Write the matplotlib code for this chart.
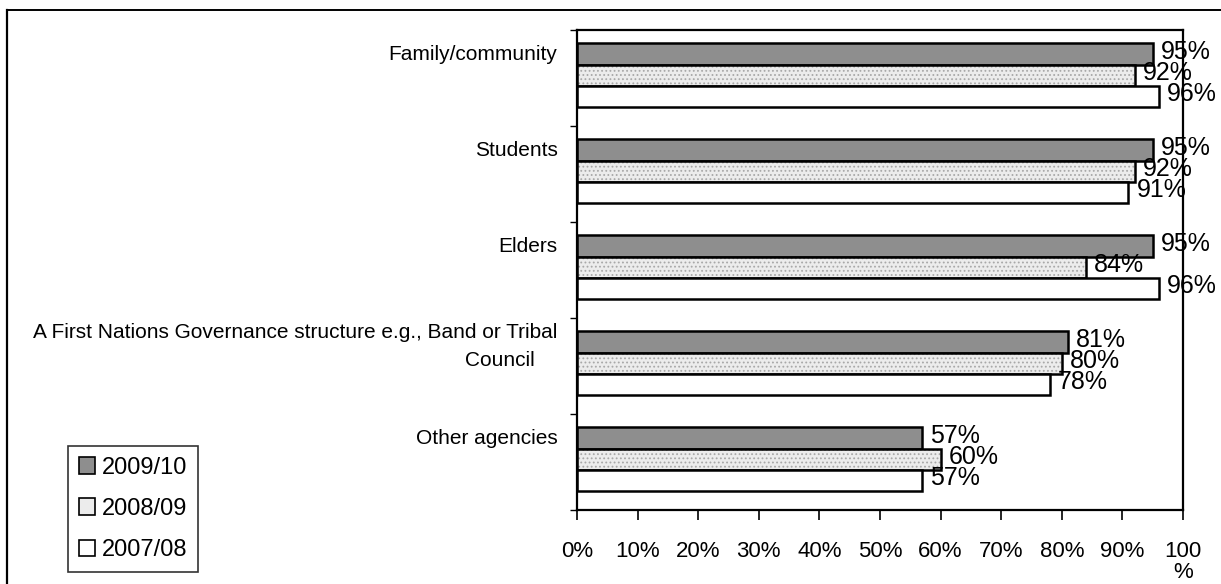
import matplotlib

matplotlib.use("Agg")
import matplotlib.pyplot as plt
import matplotlib.transforms as mtransforms
import numpy as np
from matplotlib.lines import Line2D
from matplotlib.patches import Patch

plt.rcParams["font.family"] = ["Liberation Sans", "DejaVu Sans"]
plt.rcParams["hatch.linewidth"] = 0.8

categories = [
    "Family/community",
    "Students",
    "Elders",
    "A First Nations Governance structure e.g., Band or Tribal\nCouncil    ",
    "Other agencies",
]
years = ["2009/10", "2008/09", "2007/08"]
values_2009_10 = [0.95, 0.95, 0.95, 0.81, 0.57]
values_2008_09 = [0.92, 0.92, 0.84, 0.80, 0.60]
values_2007_08 = [0.96, 0.91, 0.96, 0.78, 0.57]
x_tick_labels = ["0%", "10%", "20%", "30%", "40%", "50%", "60%", "70%", "80%", "90%", "100\n%"]

series = [values_2009_10, values_2008_09, values_2007_08]
fills = [
    dict(facecolor="#8e8e8e", hatch=None, hatch_color=None),
    dict(facecolor="#ececec", hatch="....", hatch_color="#a8a8a8"),
    dict(facecolor="white", hatch=None, hatch_color=None),
]

fig = plt.figure(figsize=(12.21, 5.84), dpi=100)
W, H = 1221, 584
ax = fig.add_axes([577 / W, 1 - 510 / H, (1183 - 577) / W, (510 - 30) / H])

y = np.arange(len(categories))
bar_h = 0.22
offsets = [-bar_h, 0.0, bar_h]
label_shift = mtransforms.ScaledTranslation(8 / 100, 2 / 100, fig.dpi_scale_trans)

for vals, off, style in zip(series, offsets, fills):
    pos = y + off - 0.03
    if style["hatch"]:
        ax.barh(pos, vals, height=bar_h, color=style["facecolor"],
                edgecolor=style["hatch_color"], hatch=style["hatch"], linewidth=0)
        ax.barh(pos, vals, height=bar_h, fill=False, edgecolor="black", linewidth=1.8)
    else:
        ax.barh(pos, vals, height=bar_h, color=style["facecolor"],
                edgecolor="black", linewidth=1.8)
    for v, p in zip(vals, pos):
        ax.text(v, p, f"{round(v * 100)}%", fontsize=18, va="center", ha="left",
                transform=ax.transData + label_shift, clip_on=False)

ax.set_xlim(0, 1)
ax.set_ylim(len(categories) - 0.5, -0.5)
ax.set_xticks(np.linspace(0, 1, 11))
ax.set_xticklabels(x_tick_labels, fontsize=16)
ax.get_xticklabels()[-1].set_linespacing(1.0)
ax.tick_params(axis="x", length=7, width=1.2, pad=15)

ax.set_yticks(y)
ax.set_yticklabels(categories, fontsize=15)
ax.set_yticks(np.arange(len(categories) + 1) - 0.5, minor=True)
ax.tick_params(axis="y", which="major", length=0, pad=14)
ax.tick_params(axis="y", which="minor", length=5, width=1.0, direction="out")
lift = mtransforms.ScaledTranslation(0, 26 / 100, fig.dpi_scale_trans)
for lbl in ax.get_yticklabels():
    lbl.set_transform(lbl.get_transform() + lift)
    lbl.set_multialignment("right")
    lbl.set_linespacing(1.6)

for side in ("left", "right", "top", "bottom"):
    ax.spines[side].set_linewidth(1.6)
    ax.spines[side].set_color("black")

handles = [
    Patch(facecolor=fills[0]["facecolor"], edgecolor="black", linewidth=1.2),
    Patch(facecolor=fills[1]["facecolor"], edgecolor="black", linewidth=1.2),
    Patch(facecolor=fills[2]["facecolor"], edgecolor="black", linewidth=1.2),
]
leg = fig.legend(handles, years, loc="lower left",
                 bbox_to_anchor=(68 / W, 1 - 572 / H), fontsize=17,
                 frameon=True, fancybox=False, borderaxespad=0,
                 handlelength=0.7, handleheight=0.7, handletextpad=0.3,
                 labelspacing=0.82, borderpad=0.45)
leg.get_frame().set_edgecolor("black")
leg.get_frame().set_linewidth(1.2)

# page frame around the chart
fig.add_artist(Line2D([7 / W, 1.0], [1 - 10 / H, 1 - 10 / H], color="black", linewidth=1.4))
fig.add_artist(Line2D([7 / W, 7 / W], [0.0, 1 - 10 / H], color="black", linewidth=1.6))

fig.savefig("out.png", dpi=100)
